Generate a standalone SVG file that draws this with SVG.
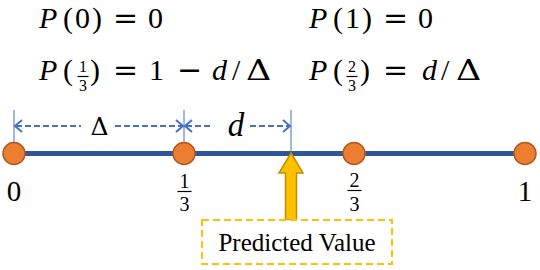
<svg xmlns="http://www.w3.org/2000/svg" width="540" height="270" viewBox="0 0 540 270">
<style>
.m{font-family:'Liberation Serif','Times New Roman',serif;fill:#000}
.i{font-style:italic}
.op{font-family:'DejaVu Serif','Liberation Serif',serif}
.dash{stroke:#4472C4;stroke-width:2;stroke-dasharray:6 3;fill:none}
.head{stroke:#4472C4;stroke-width:2;fill:none}
.tick{stroke:#4472C4;stroke-width:1}
.pt{fill:#ED7D31;stroke:#AE5A21;stroke-width:1.5}
.bar{stroke:#000;stroke-width:1.2}
</style>
<rect width="540" height="270" fill="#fff"/>
<g id="formulas">
  <text class="m" font-size="30" y="28"><tspan class="i" x="39">P</tspan><tspan x="63">(</tspan><tspan x="75">0</tspan><tspan x="92">)</tspan><tspan class="op" x="113">=</tspan><tspan x="148">0</tspan></text>
  <text class="m" font-size="30" y="28"><tspan class="i" x="309">P</tspan><tspan x="333">(</tspan><tspan x="345">1</tspan><tspan x="362">)</tspan><tspan class="op" x="383">=</tspan><tspan x="418">0</tspan></text>
  <text class="m" font-size="30" y="80"><tspan class="i" x="39">P</tspan><tspan x="63">(</tspan><tspan x="90">)</tspan><tspan class="op" x="113">=</tspan><tspan x="149">1</tspan><tspan class="op" x="177">−</tspan><tspan class="i" x="212">d</tspan><tspan x="232">/</tspan></text>
  <text class="op" font-size="28" transform="translate(246,80) scale(1.25,1)">Δ</text>
  <text class="m" font-size="16" x="83" y="72" text-anchor="middle">1</text>
  <line class="bar" x1="77.5" y1="76.5" x2="88.5" y2="76.5"/>
  <text class="m" font-size="16" x="83" y="91" text-anchor="middle">3</text>
  <text class="m" font-size="30" y="80"><tspan class="i" x="309">P</tspan><tspan x="333">(</tspan><tspan x="360">)</tspan><tspan class="op" x="383">=</tspan><tspan class="i" x="422">d</tspan><tspan x="441">/</tspan></text>
  <text class="op" font-size="28" transform="translate(456,80) scale(1.25,1)">Δ</text>
  <text class="m" font-size="16" x="352" y="72" text-anchor="middle">2</text>
  <line class="bar" x1="346.5" y1="76.5" x2="357.5" y2="76.5"/>
  <text class="m" font-size="16" x="352" y="91" text-anchor="middle">3</text>
</g>
<g id="axis">
  <line x1="14" y1="153.5" x2="525" y2="153.5" stroke="#2F5597" stroke-width="5"/>
</g>
<g id="connectors">
  <line class="tick" x1="14" y1="110" x2="14" y2="153"/>
  <line class="tick" x1="184" y1="110" x2="184" y2="153"/>
  <line class="tick" x1="291" y1="110" x2="291" y2="153"/>
  <g id="delta-arrow">
    <line class="dash" x1="16" y1="126" x2="81" y2="126"/>
    <line class="dash" x1="115" y1="126" x2="182" y2="126"/>
    <polyline class="head" points="22,120 15,126 22,132"/>
    <polyline class="head" points="176,120 183,126 176,132"/>
    <text class="op" font-size="25" x="99.5" y="135" text-anchor="middle">Δ</text>
  </g>
  <g id="d-arrow">
    <line class="dash" x1="186" y1="126" x2="213" y2="126"/>
    <line class="dash" x1="250" y1="126" x2="289" y2="126"/>
    <polyline class="head" points="192,120 185,126 192,132"/>
    <polyline class="head" points="283,120 290,126 283,132"/>
    <text class="m i" font-size="33" x="236" y="136" text-anchor="middle">d</text>
  </g>
  <path id="pred-arrow" d="M291,153 L303,173 L296.5,173 L296.5,220 L285.5,220 L285.5,173 L279,173 Z" fill="#FFC000" stroke="#BF9000" stroke-width="1.5"/>
</g>
<g id="p0">
  <circle class="pt" cx="14" cy="153.5" r="11"/>
  <text class="m" font-size="29" x="14" y="201" text-anchor="middle">0</text>
</g>
<g id="p13">
  <circle class="pt" cx="184" cy="153.5" r="11"/>
  <text class="m" font-size="20" x="184.5" y="188" text-anchor="middle">1</text>
  <line class="bar" x1="177.5" y1="191.5" x2="191.5" y2="191.5"/>
  <text class="m" font-size="20" x="184.5" y="210.5" text-anchor="middle">3</text>
</g>
<g id="p23">
  <circle class="pt" cx="354" cy="153.5" r="11"/>
  <text class="m" font-size="20" x="354.5" y="187" text-anchor="middle">2</text>
  <line class="bar" x1="347.5" y1="190.5" x2="361.5" y2="190.5"/>
  <text class="m" font-size="20" x="354.5" y="210.5" text-anchor="middle">3</text>
</g>
<g id="p1">
  <circle class="pt" cx="525" cy="153.5" r="11"/>
  <text class="m" font-size="29" x="525" y="201" text-anchor="middle">1</text>
</g>
<g id="predicted">
  <rect x="202" y="220" width="190" height="44" fill="#fff" stroke="#FFC000" stroke-width="2" stroke-dasharray="7 4"/>
  <text class="m" font-size="25" x="297" y="251" text-anchor="middle">Predicted Value</text>
</g>
</svg>
